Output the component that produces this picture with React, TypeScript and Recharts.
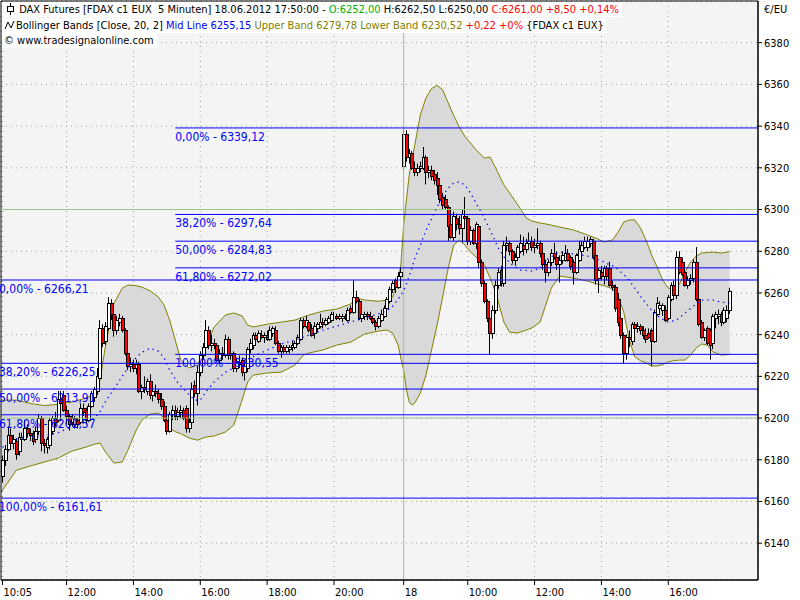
import React from 'react';
import { ComposedChart, Bar, Area, Line, XAxis, YAxis, CartesianGrid, ReferenceLine, ReferenceArea } from 'recharts';

type Ohlc = [number, number, number, number];

const FONT = '"DejaVu Sans Condensed", "DejaVu Sans", sans-serif';

// 5-minute bars, [open, high, low, close], 15.06 10:05 .. 18.06 17:50
const bars1005: Ohlc[] = [
  [6172, 6182, 6169, 6180], [6180, 6187, 6177, 6185], [6185, 6196, 6184, 6192], [6192, 6195, 6186, 6188],
  [6188, 6192, 6185, 6190], [6189, 6190, 6180, 6183], [6184, 6193, 6182, 6191], [6190, 6193, 6187, 6191],
  [6190, 6199, 6189, 6195], [6195, 6197, 6191, 6193], [6193, 6195, 6189, 6192], [6193, 6194, 6187, 6189],
  [6190, 6196, 6188, 6194], [6194, 6202, 6192, 6200], [6200, 6201, 6184, 6188], [6188, 6190, 6183, 6187],
  [6186, 6191, 6183, 6190], [6187, 6200, 6185, 6199], [6194, 6201, 6192, 6200], [6200, 6203, 6196, 6198],
  [6199, 6213, 6198, 6209], [6209, 6213, 6205, 6207], [6211, 6213, 6203, 6204],
];
const bars1200: Ohlc[] = [
  [6204, 6206, 6197, 6201], [6201, 6202, 6194, 6197], [6198, 6202, 6196, 6200], [6197, 6201, 6195, 6200],
  [6199, 6200, 6195, 6197], [6198, 6207, 6197, 6205], [6205, 6207, 6201, 6203], [6204, 6205, 6197, 6199],
  [6199, 6207, 6198, 6206], [6206, 6213, 6205, 6212], [6210, 6215, 6208, 6214], [6213, 6224, 6211, 6220],
  [6219, 6247, 6218, 6243], [6243, 6245, 6234, 6236], [6237, 6246, 6235, 6244], [6243, 6258, 6242, 6255],
  [6255, 6257, 6247, 6250], [6250, 6251, 6239, 6242], [6242, 6249, 6240, 6247], [6246, 6250, 6244, 6248],
  [6248, 6249, 6241, 6242], [6242, 6243, 6230, 6231], [6231, 6233, 6223, 6225], [6225, 6229, 6222, 6226],
];
const bars1400: Ohlc[] = [
  [6226, 6228, 6222, 6224], [6224, 6228, 6221, 6226], [6226, 6227, 6212, 6213], [6213, 6216, 6209, 6215],
  [6215, 6220, 6212, 6214], [6213, 6219, 6211, 6218], [6218, 6221, 6209, 6211], [6211, 6215, 6208, 6213],
  [6213, 6216, 6210, 6212], [6212, 6214, 6207, 6209], [6209, 6212, 6204, 6206], [6206, 6208, 6198, 6199],
  [6199, 6201, 6192, 6194], [6194, 6203, 6193, 6202], [6202, 6206, 6199, 6204], [6204, 6206, 6199, 6201],
  [6201, 6205, 6199, 6203], [6203, 6206, 6200, 6204], [6204, 6205, 6199, 6200], [6205, 6206, 6193, 6195],
  [6195, 6200, 6193, 6198], [6198, 6217, 6196, 6214], [6216, 6218, 6210, 6212], [6212, 6225, 6206, 6222],
];
const bars1600: Ohlc[] = [
  [6222, 6232, 6220, 6230], [6230, 6236, 6228, 6234], [6234, 6247, 6232, 6242], [6242, 6244, 6233, 6235],
  [6235, 6240, 6232, 6236], [6236, 6238, 6233, 6235], [6235, 6236, 6227, 6228], [6228, 6233, 6226, 6231],
  [6231, 6234, 6228, 6230], [6230, 6240, 6229, 6238], [6238, 6239, 6228, 6230], [6230, 6233, 6228, 6231],
  [6231, 6232, 6222, 6224], [6224, 6229, 6222, 6227], [6227, 6230, 6224, 6226], [6228, 6229, 6220, 6222],
  [6222, 6226, 6218, 6225], [6224, 6234, 6222, 6233], [6233, 6238, 6231, 6236], [6235, 6241, 6233, 6240],
  [6240, 6241, 6236, 6238], [6237, 6242, 6236, 6241], [6240, 6242, 6238, 6239], [6239, 6241, 6236, 6240],
];
const bars1800: Ohlc[] = [
  [6240, 6242, 6237, 6238], [6238, 6244, 6237, 6242], [6241, 6244, 6239, 6243], [6242, 6244, 6235, 6236],
  [6236, 6237, 6231, 6232], [6232, 6235, 6229, 6234], [6234, 6235, 6231, 6232], [6232, 6235, 6231, 6234],
  [6233, 6235, 6231, 6234], [6234, 6237, 6232, 6235], [6234, 6237, 6233, 6236], [6236, 6240, 6235, 6239],
  [6238, 6248, 6237, 6247], [6247, 6248, 6243, 6244], [6244, 6249, 6243, 6247], [6246, 6247, 6241, 6242],
  [6243, 6245, 6239, 6240], [6241, 6246, 6238, 6244], [6243, 6246, 6241, 6245], [6244, 6250, 6243, 6246],
  [6246, 6248, 6243, 6245], [6245, 6248, 6244, 6247], [6246, 6249, 6245, 6248], [6247, 6251, 6246, 6250],
];
const bars2000: Ohlc[] = [
  [6249, 6251, 6247, 6249], [6249, 6250, 6247, 6248], [6248, 6250, 6247, 6249], [6248, 6250, 6246, 6249],
  [6249, 6250, 6247, 6248], [6247, 6253, 6246, 6252], [6253, 6254, 6250, 6251], [6251, 6266.21, 6250, 6258],
  [6258, 6261, 6255, 6256], [6256, 6257, 6247, 6248], [6248, 6251, 6246, 6250], [6249, 6251, 6247, 6250],
  [6250, 6251, 6247, 6249], [6249, 6251, 6247, 6248], [6248, 6249, 6245, 6246], [6246, 6247, 6242, 6244],
  [6244, 6249, 6243, 6248], [6247, 6252, 6246, 6250], [6249, 6254, 6248, 6253], [6253, 6258, 6251, 6257],
  [6256, 6263, 6255, 6262], [6262, 6266, 6260, 6265], [6266, 6267, 6260, 6263], [6263, 6270, 6262, 6268],
  [6268, 6272, 6265, 6270],
];
const bars0805: Ohlc[] = [
  [6321, 6339.12, 6319, 6336], [6336, 6338, 6323, 6325], [6325, 6329, 6322, 6327], [6327, 6328, 6319, 6320],
  [6320, 6323, 6316, 6318], [6318, 6322, 6316, 6320], [6320, 6323, 6318, 6321], [6320, 6330, 6319, 6325],
  [6325, 6326, 6312, 6318], [6318, 6321, 6315, 6319], [6319, 6321, 6314, 6316], [6317, 6319, 6312, 6314],
  [6315, 6318, 6307, 6312], [6312, 6313, 6303, 6305], [6306, 6308, 6300, 6302], [6305, 6307, 6300, 6301],
  [6301, 6302, 6285, 6292], [6293, 6294, 6286, 6287], [6287, 6299, 6285, 6297], [6296, 6298, 6290, 6293],
  [6293, 6297, 6288, 6291], [6291, 6300, 6284, 6298], [6297, 6306, 6292, 6296],
];
const bars1000: Ohlc[] = [
  [6296, 6297, 6283, 6285], [6285, 6292, 6283, 6290], [6290, 6291, 6283, 6284], [6284, 6294, 6281, 6293],
  [6292, 6293, 6272, 6275], [6275, 6276, 6263, 6265], [6265, 6266, 6255, 6256], [6256, 6257, 6246, 6248],
  [6248, 6249, 6230.55, 6241], [6241, 6254, 6238, 6252], [6252, 6266, 6250, 6264], [6264, 6272, 6262, 6270],
  [6271, 6273, 6263, 6265], [6265, 6285, 6263, 6283], [6283, 6287, 6280, 6284], [6284, 6285, 6278, 6280],
  [6280, 6281, 6274, 6276], [6276, 6279, 6273, 6277], [6277, 6283, 6276, 6282], [6280, 6288, 6279, 6284],
  [6283, 6287, 6278, 6281], [6281, 6286, 6279, 6284], [6284, 6289, 6282, 6285], [6285, 6287, 6280, 6282],
];
const bars1200b: Ohlc[] = [
  [6282, 6286, 6279, 6283], [6283, 6291, 6281, 6284], [6284, 6285, 6277, 6279], [6279, 6281, 6271, 6274],
  [6274, 6276, 6265, 6270], [6270, 6276, 6268, 6275], [6275, 6281, 6273, 6279], [6279, 6284, 6276, 6277],
  [6277, 6280, 6271, 6274], [6274, 6278, 6265, 6276], [6276, 6280, 6274, 6278], [6276, 6283, 6275, 6279],
  [6279, 6281, 6275, 6276], [6277, 6278, 6271, 6273], [6275, 6276, 6264, 6270], [6270, 6279, 6269, 6278],
  [6276, 6285, 6275, 6281], [6280, 6285, 6278, 6283], [6282, 6287, 6281, 6285], [6282, 6287, 6280, 6285],
  [6284, 6287, 6282, 6286], [6285, 6286, 6276, 6277], [6278, 6279, 6264, 6266], [6267, 6272, 6260, 6271],
];
const bars1400b: Ohlc[] = [
  [6270, 6273, 6266, 6268], [6268, 6273, 6264, 6272], [6272, 6273, 6266, 6268], [6272, 6275, 6263, 6264],
  [6264, 6266, 6261, 6263], [6263, 6264, 6251, 6253], [6257, 6260, 6244, 6246], [6248, 6250, 6238, 6240],
  [6240, 6241, 6226, 6231], [6231, 6240, 6228, 6239], [6239, 6242, 6234, 6238], [6237, 6246, 6235, 6245],
  [6245, 6246, 6240, 6243], [6243, 6246, 6241, 6244], [6244, 6245, 6240, 6242], [6242, 6244, 6238, 6240],
  [6240, 6243, 6236, 6238], [6241, 6243, 6238, 6239], [6242, 6243, 6225, 6237], [6237, 6252, 6236, 6251],
  [6250, 6258, 6249, 6255], [6253, 6256, 6250, 6254], [6252, 6255, 6249, 6254], [6252, 6254, 6246, 6247],
];
const bars1600b: Ohlc[] = [
  [6248, 6259, 6247, 6258], [6257, 6265, 6256, 6264], [6264, 6266, 6258, 6259], [6259, 6280, 6257, 6277],
  [6277, 6280, 6269, 6270], [6275, 6277, 6268, 6269], [6270, 6271, 6263, 6264], [6264, 6268, 6262, 6266],
  [6266, 6269, 6264, 6267], [6267, 6276, 6265, 6275], [6275, 6282, 6256, 6257], [6257, 6258, 6244, 6245],
  [6246, 6247, 6238, 6239], [6239, 6243, 6237, 6242], [6243, 6244, 6235, 6236], [6242, 6243, 6228, 6235],
  [6236, 6250, 6233, 6249], [6248, 6251, 6243, 6250], [6249, 6252, 6245, 6250], [6250, 6251, 6244, 6246],
  [6246, 6253, 6245, 6252], [6248, 6254, 6246, 6252], [6252, 6262.5, 6250, 6261],
];

// Bollinger band at these bar positions
const bandIdx = [
  -0.5, 5, 10, 15, 20, 25, 30, 33, 35, 37, 40, 43, 45, 48, 50, 53, 56, 58, 60, 62, 64, 67, 70, 73, 76, 80, 83, 86, 88, 90,
  95, 100, 105, 108, 110, 115, 120, 125, 127, 130, 135, 138, 140, 142, 143, 144, 145, 146, 147, 148, 150, 152, 154, 156,
  158, 160, 162, 164, 166, 168, 170, 173, 175, 177, 180, 182, 185, 188, 190, 193, 195, 197, 200, 205, 210, 213, 216, 219,
  221, 223, 225, 227, 229, 231, 233, 235, 237, 239, 241, 243, 245, 247, 249, 251, 253, 255, 258, 261,
];
const upperBand = [
  6208.6, 6208.6, 6207, 6206, 6206.6, 6207.7, 6209.6, 6211.5, 6218, 6235, 6255, 6262.3, 6263.8, 6263.5, 6262.8, 6261,
  6258, 6254.2, 6247, 6237.4, 6227.8, 6224, 6225.4, 6235, 6243.7, 6249.4, 6250.4, 6249, 6244.6, 6243.7,
  6245, 6246, 6247, 6248.5, 6249.4, 6251.3, 6252.3, 6254.7, 6257.6, 6256.6, 6256, 6256.6, 6258, 6266.2, 6273.4, 6292.6,
  6304.6, 6316.6, 6324, 6331, 6345.4, 6353.5, 6358, 6359.5, 6357.5, 6351.1, 6345, 6339.5, 6335, 6331.9, 6328.6, 6324.7,
  6325.2, 6320, 6311.8, 6308, 6302.2, 6296, 6294.5, 6293.5, 6293.1, 6292.5, 6291.6, 6290.2, 6287.8, 6286.3, 6284.4,
  6285.4, 6289.2, 6294, 6295, 6295, 6291.1, 6285.4, 6278.2, 6272.4, 6266.2, 6262.3, 6261.4, 6264.3, 6270, 6274.8,
  6277.7, 6279.1, 6279.4, 6279.6, 6279.1, 6279.78,
];
const lowerBand = [
  6164.5, 6175, 6177, 6178.9, 6180.8, 6184.2, 6186.1, 6187.5, 6188, 6183.7, 6178.4, 6178.9, 6184.6, 6194.2, 6199, 6201.9,
  6202.4, 6200, 6195.2, 6193.5, 6192.5, 6190.4, 6189.4, 6190.9, 6191.4, 6193.3, 6196.6, 6208.6, 6217.3, 6220.6,
  6221.6, 6222, 6225.4, 6230.2, 6231.2, 6232.6, 6235, 6236.4, 6238, 6240.3, 6241.7, 6242.2, 6240.8, 6235, 6228.8, 6223,
  6213.4, 6207.7, 6206.2, 6207.2, 6212, 6220.6, 6232.6, 6244.6, 6258, 6271.9, 6283, 6285.4, 6283, 6279.6, 6277.2, 6273.4,
  6267.2, 6260.4, 6246, 6241.2, 6240.8, 6242.2, 6243.2, 6246, 6254.2, 6262.3, 6268.1, 6267.1, 6265.7, 6264.5, 6263.5,
  6261.9, 6258.5, 6250.8, 6237.4, 6229.3, 6227.5, 6226.5, 6224.9, 6225, 6225.6, 6226.9, 6227.5, 6227.8, 6227.8, 6230.2,
  6233.6, 6235.5, 6235, 6231.7, 6230.2, 6230.52,
];
const midIdx = [
  0, 5, 10, 15, 20, 25, 30, 33, 35, 37, 40, 43, 45, 48, 50, 53, 56, 58, 60, 63, 66, 69, 71, 73, 76, 80, 83, 86, 90, 95,
  100, 105, 110, 115, 120, 125, 130, 135, 138, 140, 142, 144, 146, 148, 150, 152, 155, 158, 160, 162, 164, 166, 168, 170,
  173, 175, 178, 180, 183, 186, 190, 193, 196, 200, 205, 210, 215, 220, 224, 227, 230, 233, 236, 239, 242, 245, 248, 251,
  255, 258, 261,
];
const midLine = [
  6186, 6190, 6191, 6191.5, 6193, 6196, 6198, 6200, 6203, 6208, 6214, 6220, 6224, 6229, 6231.5, 6233.5, 6232, 6229, 6223,
  6216.8, 6212.5, 6208.6, 6208.6, 6212.5, 6217.3, 6222, 6224, 6227, 6229.5, 6232.6, 6235.5, 6237.4, 6239.8, 6242.2,
  6244.1, 6246, 6248, 6250, 6251.5, 6253.5, 6257, 6261, 6268, 6276.5, 6283, 6290, 6298.3, 6306.5, 6310.3, 6312.7, 6313.2,
  6311.8, 6307.9, 6303.1, 6295.9, 6290.2, 6281.5, 6277.2, 6273.4, 6271, 6270.5, 6271.9, 6276.7, 6279.6, 6278.7, 6277.7,
  6275.3, 6272.4, 6267.6, 6262.3, 6256.6, 6251.8, 6248, 6246, 6247, 6250.4, 6253.7, 6256.6, 6256.6, 6255.6, 6255.15,
];

const fibDay1 = [6266.21, 6226.25, 6213.91, 6201.57, 6161.61];
const fibDay2 = [6339.12, 6297.64, 6284.83, 6272.02, 6230.55];
const fibPct = ['0,00%', '38,20%', '50,00%', '61,80%', '100,00%'];
const fibDay2Start = 62;

const timeTicks = [0, 23, 47, 71, 95, 119, 144, 167, 191, 215, 239];
const timeLabels = ['10:05', '12:00', '14:00', '16:00', '18:00', '20:00', '18', '10:00', '12:00', '14:00', '16:00'];
const dayBreak = 144;
const priceTicks = [6140, 6160, 6180, 6200, 6220, 6240, 6260, 6280, 6300, 6320, 6340, 6360, 6380];
const roundLevels = [6200, 6300];

const X_DOMAIN: [number, number] = [-0.54, 271.2];
const Y_DOMAIN: [number, number] = [6122.34, 6400];

const candles = [
  ...bars1005, ...bars1200, ...bars1400, ...bars1600, ...bars1800, ...bars2000,
  ...bars0805, ...bars1000, ...bars1200b, ...bars1400b, ...bars1600b,
].map(([o, h, l, c], i) => ({ i, o, h, l, c, range: [l, h] }));

const bandData = bandIdx.map((i, k) => ({ i, band: [lowerBand[k], upperBand[k]] }));
const midData = midIdx.map((i, k) => ({ i, mid: midLine[k] }));

const Candle = (props: any) => {
  const { x, y, width, height, payload } = props;
  if (x == null || !payload) return null;
  const { o, h, l, c } = payload;
  const px = Math.floor(x + width / 2);
  const k = h > l ? height / (h - l) : 0;
  const yO = y + (h - o) * k;
  const yC = y + (h - c) * k;
  const top = Math.round(Math.min(yO, yC)) + 0.5;
  const bot = Math.round(Math.max(yO, yC)) + 0.5;
  return (
    <g>
      <line x1={px + 0.5} x2={px + 0.5} y1={y} y2={y + height} stroke="#000" strokeWidth={1} />
      <rect x={px - 0.5} y={top} width={3} height={Math.max(bot - top, 0)} fill={c >= o ? '#fff' : '#ff0000'} stroke="#000" strokeWidth={1} />
    </g>
  );
};

const FibText = (props: any) => {
  const { viewBox, text, dx = 2 } = props;
  if (!viewBox) return null;
  return (
    <text x={viewBox.x + dx} y={viewBox.y + 13} fill="#0000ff" fontSize={12} style={{ fontFamily: FONT, fontStretch: 'condensed' }}>
      {text}
    </text>
  );
};

const TimeTick = (props: any) => {
  const { x, y, payload } = props;
  const k = timeTicks.indexOf(payload.value);
  return (
    <text x={x + 1} y={y} dy="0.71em" fontSize={11} fill="#000" textAnchor="start" style={{ fontFamily: FONT, fontStretch: 'condensed' }}>
      {timeLabels[k]}
    </text>
  );
};

const PriceTick = (props: any) => {
  const { x, y, payload } = props;
  return (
    <text x={x} y={y} dy="0.36em" fontSize={11} fill="#000" textAnchor="start" style={{ fontFamily: FONT, fontStretch: 'condensed' }}>
      {payload.value}
    </text>
  );
};

const CandleIcon = () => (
  <svg width={12} height={14} style={{ verticalAlign: -3 }}>
    <line x1={6.5} x2={6.5} y1={1} y2={13} stroke="#000" />
    <rect x={3.5} y={4.5} width={6} height={5} fill="#fff" stroke="#000" />
  </svg>
);

const WaveIcon = () => (
  <svg width={12} height={14} style={{ verticalAlign: -3 }}>
    <polyline points="1,11 4,4 7,10 10,3" fill="none" stroke="#000" />
  </svg>
);

const lineBox: React.CSSProperties = { display: 'inline-block', background: '#fff', paddingLeft: 2, paddingRight: 3, height: 15 };

export default function App() {
  return (
    <div style={{ position: 'relative', width: 800, height: 600, background: '#fff', fontFamily: FONT, fontStretch: 'condensed' }}>
      <style>{'body{margin:0}'}</style>
      <ComposedChart width={800} height={600} data={candles} margin={{ top: 1, right: 0, bottom: 0, left: 1 }}>
        <CartesianGrid stroke="#a0a0a0" strokeDasharray="1 4" fill="#f4f4f4" />
        <XAxis
          type="number"
          dataKey="i"
          domain={X_DOMAIN}
          allowDataOverflow
          ticks={timeTicks}
          interval={0}
          height={20}
          tickSize={5}
          tickMargin={3}
          axisLine={{ stroke: '#000' }}
          tickLine={{ stroke: '#000' }}
          tick={<TimeTick />}
        />
        <YAxis
          orientation="right"
          width={42}
          domain={Y_DOMAIN}
          allowDataOverflow
          ticks={priceTicks}
          interval={0}
          tickSize={4}
          tickMargin={2}
          axisLine={{ stroke: '#000' }}
          tickLine={{ stroke: '#000' }}
          tick={<PriceTick />}
        />
        <Area
          data={bandData}
          dataKey="band"
          type="linear"
          stroke="#808000"
          strokeWidth={1}
          fill="#d9d9d9"
          fillOpacity={1}
          dot={false}
          activeDot={false}
          isAnimationActive={false}
        />
        {roundLevels.map((v) => (
          <ReferenceLine key={'g' + v} y={v} stroke="#9cc88c" strokeWidth={1} />
        ))}
        <ReferenceLine x={dayBreak} stroke="#9cc88c" strokeWidth={1} />
        <Line
          data={midData}
          dataKey="mid"
          type="linear"
          stroke="#0000ff"
          strokeWidth={1.3}
          strokeDasharray="1.3 4"
          dot={false}
          activeDot={false}
          isAnimationActive={false}
        />
        <Bar dataKey="range" barSize={3} shape={<Candle />} isAnimationActive={false} />
        {fibDay1.map((v, k) => (
          <ReferenceLine
            key={'f1' + k}
            y={v}
            stroke="#0000ff"
            strokeWidth={1}
            label={<FibText text={`${fibPct[k]} - ${v.toFixed(2).replace('.', ',')}`} dx={-2} />}
          />
        ))}
        {fibDay2.map((v, k) => (
          <ReferenceLine
            key={'f2' + k}
            segment={[{ x: fibDay2Start, y: v }, { x: X_DOMAIN[1], y: v }]}
            stroke="#0000ff"
            strokeWidth={1}
            label={<FibText text={`${fibPct[k]} - ${v.toFixed(2).replace('.', ',')}`} dx={0} />}
          />
        ))}
        <ReferenceArea x1={X_DOMAIN[0]} x2={X_DOMAIN[1]} y1={Y_DOMAIN[0]} y2={Y_DOMAIN[1]} fill="none" stroke="#000" strokeWidth={1} />
      </ComposedChart>

      <div style={{ position: 'absolute', left: 2, top: 2, fontSize: 11, lineHeight: '15.5px', whiteSpace: 'pre', color: '#000' }}>
        <div>
          <span style={lineBox}>
            <CandleIcon />
            {' DAX Futures [FDAX c1 EUX  5 Minuten] 18.06.2012 17:50:00 - '}
            <span style={{ color: '#00b000' }}>O:6252,00</span>
            {' H:6262,50 L:6250,00 '}
            <span style={{ color: '#ff0000' }}>C:6261,00 +8,50 +0,14%</span>
          </span>
        </div>
        <div>
          <span style={lineBox}>
            <WaveIcon />
            {'Bollinger Bands [Close, 20, 2] '}
            <span style={{ color: '#0000ff' }}>Mid Line 6255,15</span>
            <span style={{ color: '#808000' }}> Upper Band 6279,78 Lower Band 6230,52</span>
            <span style={{ color: '#ff0000' }}> +0,22 +0%</span>
            {' {FDAX c1 EUX}'}
          </span>
        </div>
        <div>
          <span style={lineBox}>{'© www.tradesignalonline.com'}</span>
        </div>
      </div>
      <div style={{ position: 'absolute', left: 764, top: 3, fontSize: 11, color: '#000' }}>€/EU</div>
    </div>
  );
}
